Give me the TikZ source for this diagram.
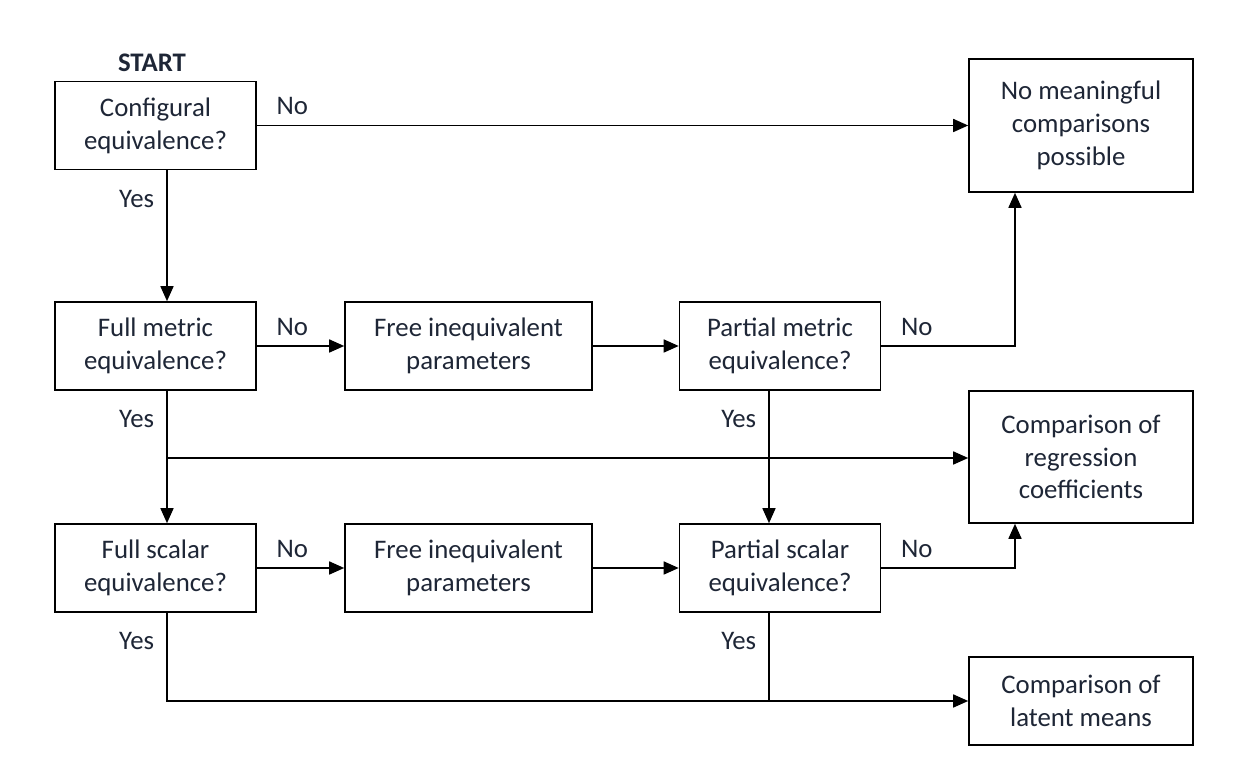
\documentclass[tikz,border=0pt]{standalone}
\usepackage{fontspec}
\setmainfont{Carlito}
\usetikzlibrary{arrows.meta,positioning,calc}
\definecolor{fcink}{HTML}{1E2636}
\newcommand{\fcfont}{\fontsize{13.4}{16.4}\selectfont}
\tikzset{
  fcbox/.style={draw=black, fill=white, line width=0.8pt, align=center, text=fcink,
                font=\fcfont, minimum width=100.5pt, minimum height=44pt, inner sep=0pt},
  fcwide/.style={fcbox, minimum width=123.5pt},
  fcout/.style={fcbox, minimum width=112pt},
  fcedge/.style={-{Triangle[length=7.5pt,width=6.5pt]}, line width=0.8pt},
  fcline/.style={line width=0.8pt},
  fclabel/.style={text=fcink, font=\fcfont, inner sep=0pt},
  fcno/.style={fclabel, pos=0, anchor=south west, xshift=9.5pt, yshift=5pt},
  fcyes/.style={fclabel, pos=0, anchor=north east, xshift=-6pt, yshift=-9.5pt},
}

\begin{document}
\begin{tikzpicture}[x=0.5pt,y=-0.5pt]
  \useasboundingbox (0,0) rectangle (1244,769);
  \node[fclabel,font=\fcfont\bfseries] (start) at (152,63) {START};
  \node[fcbox] (cfg) at (155.5,125.5) {Configural\\equivalence?};
  \node[fcout,minimum height=66.5pt] (none) at (1081,125.5) {No meaningful\\comparisons\\possible};

  \node[fcbox] (fme) at (155.5,346) {Full metric\\equivalence?};
  \node[fcwide] (free1) at (468.5,346) {Free inequivalent\\parameters};
  \node[fcbox] (pme) at (780,346) {Partial metric\\equivalence?};
  \node[fcout,minimum height=66pt] (reg) at (1081,457) {Comparison of\\regression\\coefficients};

  \node[fcbox] (fse) at (155.5,568) {Full scalar\\equivalence?};
  \node[fcwide] (free2) at (468.5,568) {Free inequivalent\\parameters};
  \node[fcbox] (pse) at (780,568) {Partial scalar\\equivalence?};
  \node[fcout] (lat) at (1081,701) {Comparison of\\latent means};

  \coordinate (ltrunk) at (167,0);
  \coordinate (mtrunk) at (769,0);
  \coordinate (rtrunk) at (1015,0);
  \coordinate (reglevel) at (0,458);

  \draw[fcedge] (cfg) -- node[fcno] {No} (none);
  \draw[fcedge] (cfg.south -| ltrunk) -- node[fcyes] {Yes} (fme.north -| ltrunk);

  \draw[fcedge] (fme) -- node[fcno] {No} (free1);
  \draw[fcedge] (free1) -- (pme);
  \draw[fcedge] (pme.east) -- node[fcno] {No} (pme.east -| rtrunk) -- (none.south -| rtrunk);
  \draw[fcedge] (pme.south -| mtrunk) -- node[fcyes] {Yes} (pse.north -| mtrunk);
  \draw[fcedge] (fme.south -| ltrunk) -- node[fcyes] {Yes} (fse.north -| ltrunk);
  \draw[fcedge] (ltrunk |- reglevel) -- (reg.west |- reglevel);

  \draw[fcedge] (fse) -- node[fcno] {No} (free2);
  \draw[fcedge] (free2) -- (pse);
  \draw[fcedge] (pse.east) -- node[fcno] {No} (pse.east -| rtrunk) -- (reg.south -| rtrunk);
  \draw[fcedge] (fse.south -| ltrunk) -- node[fcyes] {Yes} (ltrunk |- lat.west) -- (lat.west);
  \draw[fcline] (pse.south -| mtrunk) -- node[fcyes] {Yes} (mtrunk |- lat.west);
\end{tikzpicture}
\end{document}
